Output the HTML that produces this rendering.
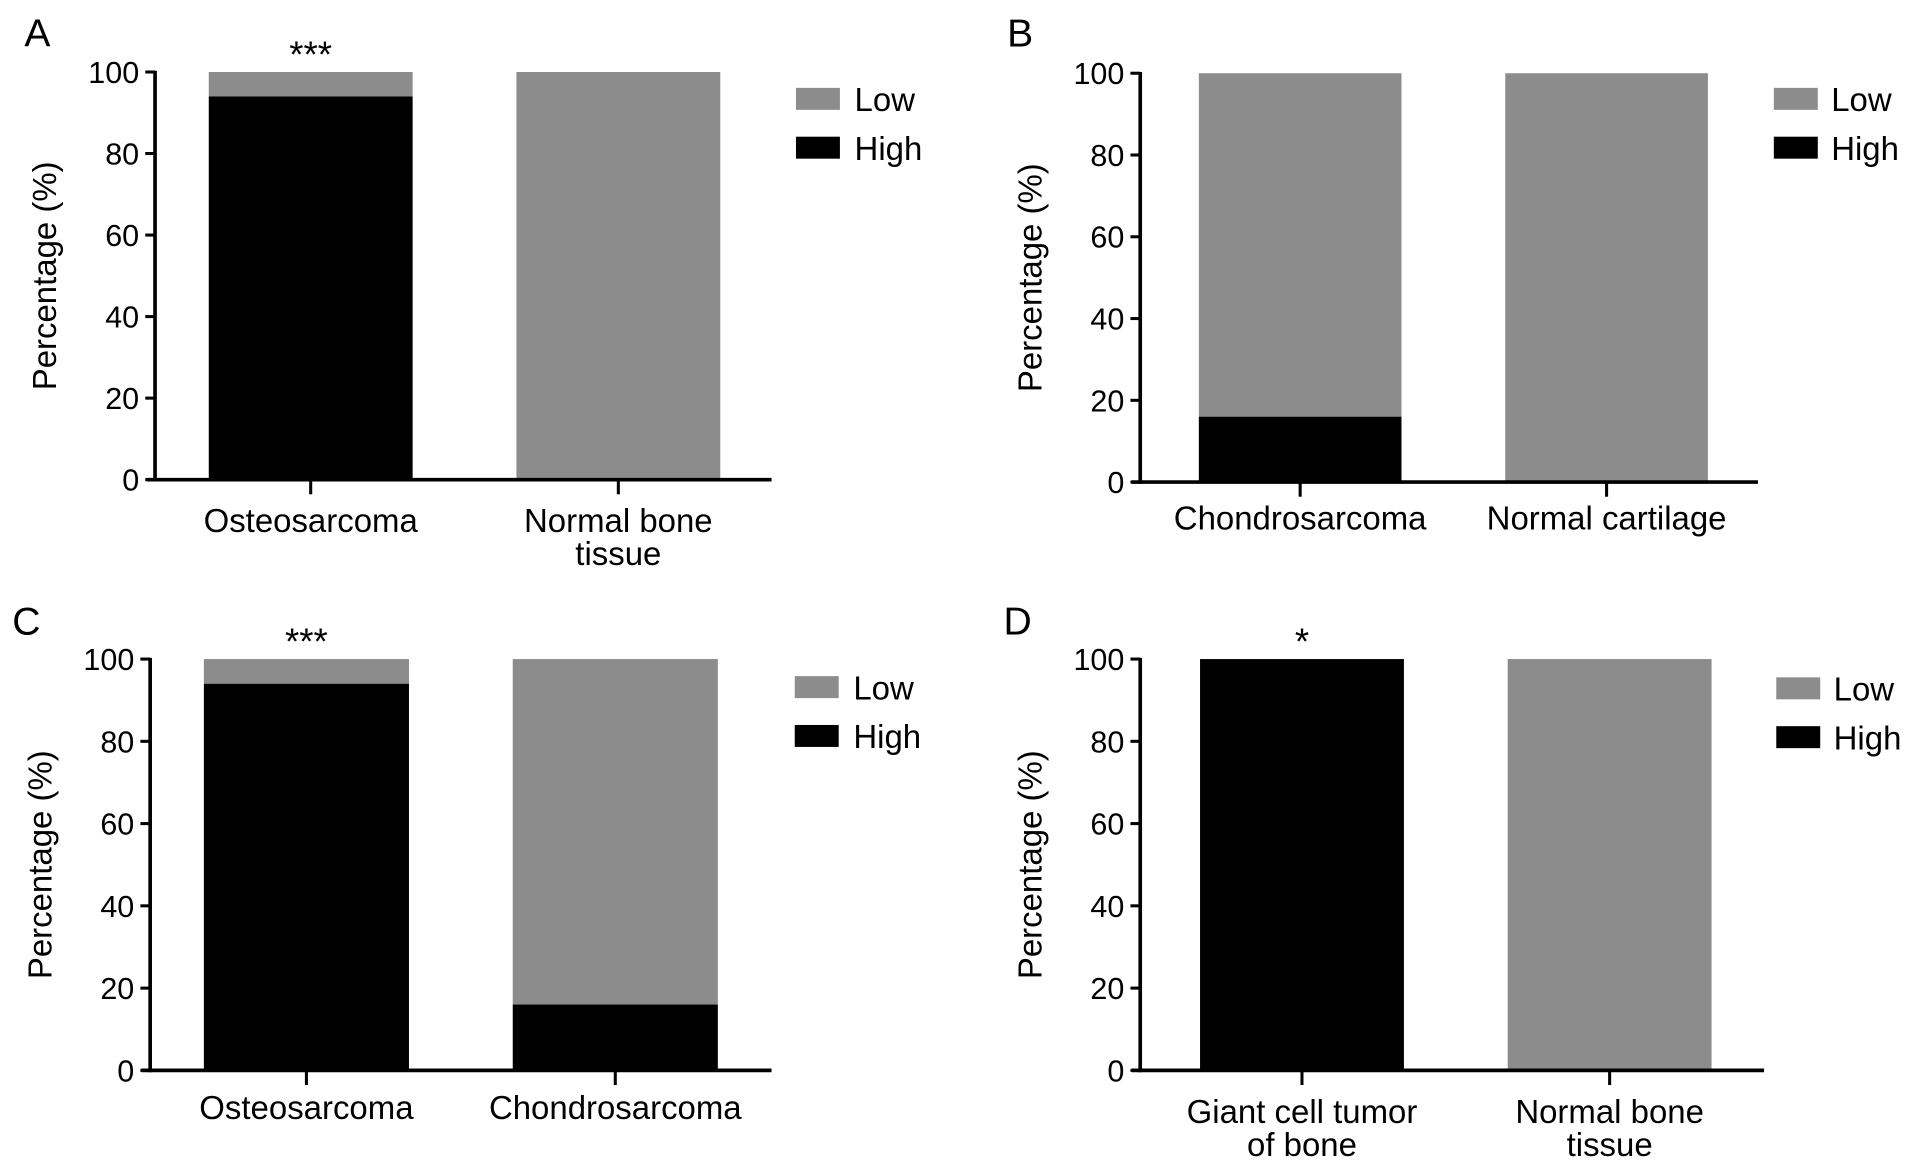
<!DOCTYPE html>
<html><head><meta charset="utf-8"><style>
html,body{margin:0;padding:0;background:#fff;}
svg{display:block;font-family:"Liberation Sans",Arial,sans-serif;}
</style></head><body>
<svg id="fig" width="1913" height="1168" viewBox="0 0 1567 957" preserveAspectRatio="none" xmlns="http://www.w3.org/2000/svg"></svg>
<script>
const panelLetters = ["A","B","C","D"];
const catsA = ["Osteosarcoma","Normal bone|tissue"];
const catsB = ["Chondrosarcoma","Normal cartilage"];
const catsC = ["Osteosarcoma","Chondrosarcoma"];
const catsD = ["Giant cell tumor|of bone","Normal bone|tissue"];
const highA = [94, 0];
const highB = [16, 0];
const highC = [94, 16];
const highD = [100, 0];
const sigA = ["***",""];
const sigB = ["",""];
const sigC = ["***",""];
const sigD = ["*",""];
const yTicks = [0,20,40,60,80,100];
const legendLabels = ["Low","High"];

const svg = document.getElementById('fig');
const NS = "http://www.w3.org/2000/svg";
function mk(tag, attrs, parent){const e=document.createElementNS(NS,tag);for(const k in attrs)e.setAttribute(k,attrs[k]);(parent||svg).appendChild(e);return e;}

const GRAY="#8c8c8c";
const layouts = [
 {letter:panelLetters[0],lx:20,ly:38,ax:127,y100:59,y0:393,right:632,bars:[171,423],bw:167,cats:catsA,high:highA,sig:sigA,labY:436,legX:652,legY:72,legTx:700},
 {letter:panelLetters[1],lx:825,ly:38,ax:934,y100:60,y0:395,right:1440,bars:[982,1233],bw:166,cats:catsB,high:highB,sig:sigB,labY:434,legX:1453,legY:72,legTx:1500},
 {letter:panelLetters[2],lx:10,ly:520,ax:123,y100:540,y0:877,right:632,bars:[167,420],bw:168,cats:catsC,high:highC,sig:sigC,labY:917,legX:651,legY:554,legTx:699},
 {letter:panelLetters[3],lx:822,ly:520,ax:934,y100:540,y0:877,right:1445,bars:[983,1235],bw:167,cats:catsD,high:highD,sig:sigD,labY:920,legX:1455,legY:555,legTx:1502}
];

layouts.forEach((p,pi)=>{
  const g = mk('g',{});
  
  
  const yScale = v => p.y0 - (p.y0-p.y100)*v/100;
  const t = mk('text',{x:p.lx,y:p.ly,'font-size':32},g); t.textContent=p.letter;
   
  p.cats.forEach((c,i)=>{
    const x=p.bars[i], h=p.high[i];
    const low = mk('rect',{x:x,y:yScale(100),width:p.bw,height:yScale(h)-yScale(100),fill:GRAY},g);
     
    const hi = mk('rect',{x:x,y:yScale(h),width:p.bw,height:yScale(0)-yScale(h),fill:"#000"},g);
     
    const cx=x+p.bw/2;
    mk('line',{x1:cx,x2:cx,y1:p.y0,y2:p.y0+12,stroke:"#000","stroke-width":2.5},g);
    const lines=c.split('|');
    lines.forEach((ln,j)=>{
      const tt=mk('text',{x:cx,y:p.labY+j*27,'font-size':27,'text-anchor':'middle'},g); tt.textContent=ln;
       
    });
    if(p.sig[i]){
      const s=mk('text',{x:cx,y:yScale(100)-4,'font-size':30,'text-anchor':'middle'},g); s.textContent=p.sig[i];
       
    }
  });
  const ya=mk('line',{x1:p.ax,x2:p.ax,y1:yScale(100)-1,y2:p.y0+1.5,stroke:"#000","stroke-width":3},g);
   
  const xa=mk('line',{x1:p.ax-7,x2:p.right,y1:p.y0,y2:p.y0,stroke:"#000","stroke-width":3},g);
   
  yTicks.forEach(v=>{
    const y=yScale(v);
    mk('line',{x1:p.ax-8,x2:p.ax,y1:y,y2:y,stroke:"#000","stroke-width":2.5},g);
    const tl=mk('text',{x:p.ax-13,y:y+9,'font-size':25,'text-anchor':'end'},g); tl.textContent=v;
     
  });
  const ym=(p.y0+p.y100)/2, tx=p.ax-81;
  const yt=mk('text',{x:tx,y:ym,'font-size':27,'text-anchor':'middle',transform:`rotate(-90 ${tx} ${ym})`},g); yt.textContent="Percentage (%)";
   
  legendLabels.forEach((l,i)=>{
    const y=p.legY+i*40;
    const sw=mk('rect',{x:p.legX,y:y,width:36,height:18,fill:i===0?GRAY:"#000"},g);
     
    const lt=mk('text',{x:p.legTx,y:y+19,'font-size':27},g); lt.textContent=l;
     
  });
});
</script>
</body></html>
